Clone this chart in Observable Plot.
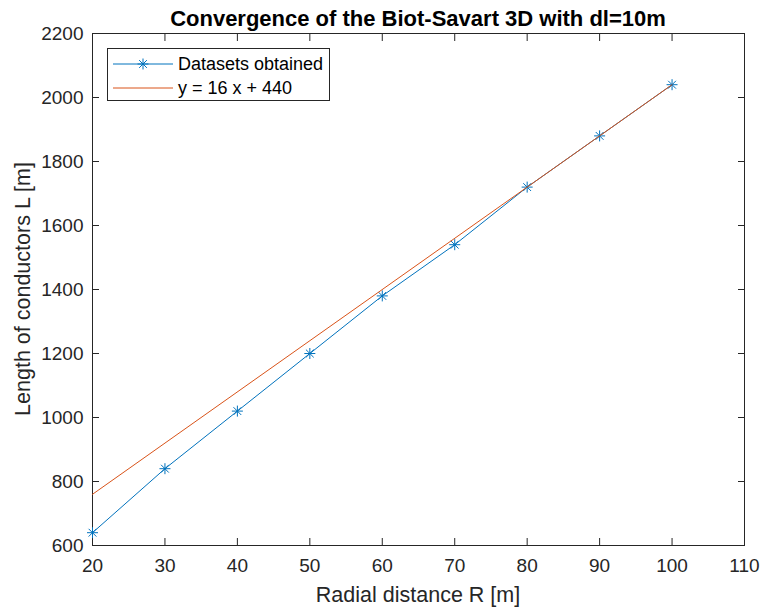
<!DOCTYPE html>
<html>
<head>
<meta charset="utf-8">
<script src="https://cdn.jsdelivr.net/npm/d3@7"></script>
<script src="https://cdn.jsdelivr.net/npm/@observablehq/plot@0.6"></script>
<style>
  html, body { margin: 0; padding: 0; background: #fff; }
  #chart { position: relative; width: 764px; height: 612px; font-family: "Liberation Sans", Arial, Helvetica, sans-serif; }
  #chart > svg { position: absolute; left: 0; top: 0; }
  #chart > svg g[aria-label$="tick label"] text { font-size: 19px; fill: #262626; }
  .legend { position: absolute; left: 107px; top: 48px; width: 223px; height: 53px; box-sizing: border-box;
            border: 1px solid #262626; background: #fff; font-size: 18px; color: #000; }
  .legend .row { position: absolute; left: 5px; width: 215px; height: 22px; }
  .legend .row svg { position: absolute; left: 0; top: 0; }
  .legend .row span { position: absolute; left: 65px; top: 0; line-height: 22px; white-space: nowrap; }
</style>
</head>
<body>
<div id="chart"></div>
<script>
// Radial distance R [m] and conductor length L [m] from the 3D Biot-Savart runs
const radius = [20, 30, 40, 50, 60, 70, 80, 90, 100];
const lengthL = [640, 840, 1020, 1200, 1380, 1540, 1720, 1880, 2040];

// Linear fit y = 16 x + 440 over the sampled range
const fitSlope = 16;
const fitIntercept = 440;
const fitX = [20, 100];

const xTicks = [20, 30, 40, 50, 60, 70, 80, 90, 100, 110];
const yTicks = [600, 800, 1000, 1200, 1400, 1600, 1800, 2000, 2200];

const titleText = "Convergence of the Biot-Savart 3D with dl=10m";
const xLabel = "Radial distance R [m]";
const yLabel = "Length of conductors L [m]";
const seriesNames = ["Datasets obtained", "y = 16 x + 440"];

const blue = "#0072BD";
const orange = "#D95319";
const axisColor = "#262626";

const data = radius.map((r, i) => ({r, L: lengthL[i]}));
const fit = fitX.map(r => ({r, L: fitSlope * r + fitIntercept}));

// MATLAB-style "*" marker: a plus and a cross sharing one centre
const star = {
  draw(ctx, size) {
    const r = Math.sqrt(size / Math.PI);
    const d = r * Math.SQRT1_2;
    ctx.moveTo(0, -r); ctx.lineTo(0, r);
    ctx.moveTo(-r, 0); ctx.lineTo(r, 0);
    ctx.moveTo(-d, -d); ctx.lineTo(d, d);
    ctx.moveTo(-d, d); ctx.lineTo(d, -d);
  }
};

const blank = () => "";
const plain = d3.format("d");

const plot = Plot.plot({
  width: 764,
  height: 612,
  marginLeft: 92,
  marginRight: 20,
  marginTop: 33,
  marginBottom: 67,
  style: {fontFamily: "'Liberation Sans', Arial, Helvetica, sans-serif", background: "#fff", color: axisColor},
  x: {domain: [20, 110]},
  y: {domain: [600, 2200]},
  marks: [
    Plot.frame({stroke: axisColor, strokeWidth: 1}),
    Plot.axisX({ticks: xTicks, anchor: "bottom", tickSize: -7, tickPadding: 20, tickFormat: plain, label: null, stroke: axisColor}),
    Plot.axisX({ticks: xTicks, anchor: "top", tickSize: -7, tickFormat: blank, label: null, stroke: axisColor}),
    Plot.axisY({ticks: yTicks, anchor: "left", tickSize: -7, tickPadding: 16, tickFormat: plain, label: null, stroke: axisColor}),
    Plot.axisY({ticks: yTicks, anchor: "right", tickSize: -7, tickFormat: blank, label: null, stroke: axisColor}),
    Plot.line(data, {x: "r", y: "L", stroke: blue, strokeWidth: 1}),
    Plot.dot(data, {x: "r", y: "L", symbol: star, r: 5.5, stroke: blue, strokeWidth: 1}),
    Plot.line(fit, {x: "r", y: "L", stroke: orange, strokeWidth: 1})
  ]
});

const chart = document.getElementById("chart");
chart.appendChild(plot);

// Title and axis labels, placed around the plotting frame
const svg = d3.select(plot);
svg.append("text")
  .attr("x", 418).attr("y", 26)
  .attr("text-anchor", "middle")
  .attr("font-size", 22).attr("font-weight", "bold").attr("fill", "#000")
  .text(titleText);
svg.append("text")
  .attr("x", 418).attr("y", 602)
  .attr("text-anchor", "middle")
  .attr("font-size", 21.5).attr("fill", axisColor)
  .text(xLabel);
svg.append("text")
  .attr("transform", "translate(30,289) rotate(-90)")
  .attr("text-anchor", "middle")
  .attr("font-size", 21.5).attr("fill", axisColor)
  .text(yLabel);

// Legend box
const legend = d3.select(chart).append("div").attr("class", "legend");
const rows = [
  {name: seriesNames[0], color: blue, marker: true, top: 4},
  {name: seriesNames[1], color: orange, marker: false, top: 28}
];
for (const row of rows) {
  const div = legend.append("div").attr("class", "row").style("top", row.top + "px");
  const s = div.append("svg").attr("width", 60).attr("height", 22);
  s.append("line").attr("x1", 0).attr("x2", 60).attr("y1", 11).attr("y2", 11)
    .attr("stroke", row.color).attr("stroke-width", 1);
  if (row.marker) {
    s.append("path").attr("transform", "translate(30,11)")
      .attr("d", d3.symbol(star, Math.PI * 30)())
      .attr("stroke", row.color).attr("fill", "none").attr("stroke-width", 1);
  }
  div.append("span").text(row.name);
}
</script>
</body>
</html>
